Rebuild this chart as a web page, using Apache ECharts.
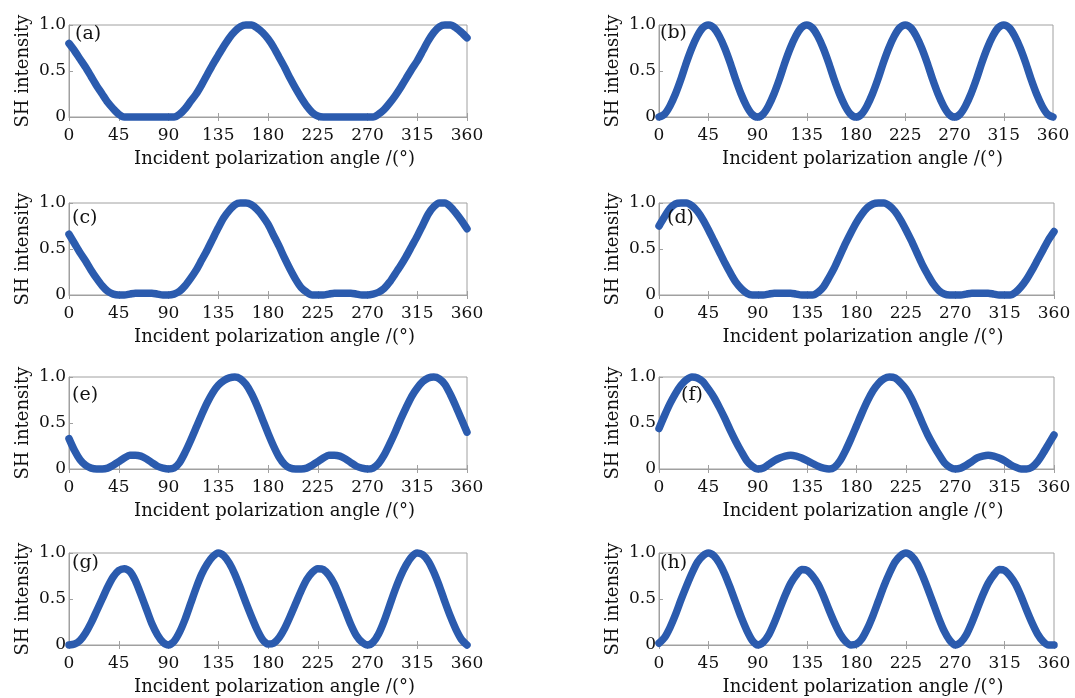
<!DOCTYPE html>
<html>
<head>
<meta charset="utf-8">
<script src="https://cdn.jsdelivr.net/npm/echarts@6/dist/echarts.min.js"></script>
<style>html,body{margin:0;padding:0;background:#fff}#c{width:1075px;height:698px}</style>
</head>
<body>
<div id="c"></div>
<script>
const angles = [0,5,10,15,20,25,30,35,40,45,50,55,60,65,70,75,80,85,90,95,100,105,110,115,120,125,130,135,140,145,150,155,160,165,170,175,180,185,190,195,200,205,210,215,220,225,230,235,240,245,250,255,260,265,270,275,280,285,290,295,300,305,310,315,320,325,330,335,340,345,350,355,360];
const xTicks = [0,45,90,135,180,225,270,315,360];
const yTicks = [0,0.5,1.0];
const panelLabels = ['(a)','(b)','(c)','(d)','(e)','(f)','(g)','(h)'];

const seriesA = [0.80,0.72,0.63,0.54,0.44,0.34,0.25,0.16,0.09,0.03,0,0,0,0,0,0,0,0,0,0,0.03,0.09,0.17,0.25,0.35,0.46,0.57,0.67,0.77,0.86,0.93,0.98,1.0,1.0,0.97,0.92,0.85,0.76,0.65,0.54,0.42,0.31,0.21,0.12,0.05,0.01,0,0,0,0,0,0,0,0,0,0,0.03,0.08,0.15,0.23,0.32,0.42,0.52,0.61,0.72,0.83,0.92,0.98,1.0,1.0,0.97,0.92,0.86];
const seriesB = [0,0.03,0.12,0.25,0.41,0.59,0.75,0.88,0.97,1.0,0.97,0.88,0.75,0.59,0.41,0.25,0.12,0.03,0,0.03,0.12,0.25,0.41,0.59,0.75,0.88,0.97,1.0,0.97,0.88,0.75,0.59,0.41,0.25,0.12,0.03,0,0.03,0.12,0.25,0.41,0.59,0.75,0.88,0.97,1.0,0.97,0.88,0.75,0.59,0.41,0.25,0.12,0.03,0,0.03,0.12,0.25,0.41,0.59,0.75,0.88,0.97,1.0,0.97,0.88,0.75,0.59,0.41,0.25,0.12,0.03,0];
const seriesC = [0.66,0.56,0.46,0.37,0.27,0.18,0.10,0.04,0.01,0,0,0.01,0.02,0.02,0.02,0.02,0.01,0,0,0.01,0.04,0.10,0.18,0.27,0.38,0.49,0.61,0.73,0.84,0.92,0.98,1.0,1.0,0.98,0.93,0.86,0.77,0.65,0.53,0.40,0.28,0.17,0.08,0.03,0,0,0,0.01,0.02,0.02,0.02,0.02,0.01,0,0,0.01,0.03,0.07,0.14,0.23,0.32,0.42,0.53,0.64,0.76,0.88,0.96,1.0,1.0,0.96,0.89,0.81,0.72];
const seriesD = [0.75,0.85,0.94,0.99,1.0,1.0,0.97,0.91,0.82,0.71,0.59,0.47,0.35,0.24,0.14,0.07,0.02,0,0,0,0.01,0.02,0.02,0.02,0.02,0.01,0,0,0,0.03,0.09,0.19,0.30,0.43,0.56,0.68,0.79,0.88,0.95,0.99,1.0,1.0,0.97,0.91,0.82,0.71,0.59,0.46,0.33,0.22,0.12,0.05,0.01,0,0,0,0.01,0.02,0.02,0.02,0.02,0.01,0,0,0,0.03,0.09,0.17,0.27,0.38,0.49,0.60,0.69];
const seriesE = [0.33,0.20,0.10,0.04,0.01,0,0,0.01,0.04,0.08,0.12,0.15,0.15,0.14,0.11,0.07,0.03,0.01,0,0.01,0.07,0.18,0.31,0.45,0.59,0.72,0.83,0.91,0.96,0.99,1.0,0.98,0.92,0.82,0.69,0.54,0.39,0.25,0.13,0.05,0.01,0,0,0.01,0.04,0.08,0.12,0.15,0.15,0.14,0.11,0.07,0.03,0.01,0,0.01,0.06,0.15,0.27,0.40,0.54,0.67,0.79,0.88,0.95,0.99,1.0,0.98,0.92,0.81,0.68,0.54,0.40];
const seriesF = [0.44,0.58,0.71,0.82,0.91,0.97,1.0,0.99,0.95,0.87,0.78,0.67,0.55,0.42,0.30,0.19,0.09,0.03,0,0.01,0.05,0.09,0.12,0.14,0.15,0.14,0.12,0.09,0.06,0.03,0.01,0,0.02,0.09,0.20,0.33,0.47,0.61,0.74,0.85,0.93,0.98,1.0,0.99,0.94,0.87,0.77,0.64,0.50,0.37,0.26,0.16,0.07,0.02,0,0.01,0.04,0.08,0.12,0.14,0.15,0.14,0.12,0.09,0.05,0.02,0,0,0.02,0.08,0.17,0.27,0.37];
const seriesG = [0,0.01,0.05,0.13,0.24,0.37,0.50,0.63,0.74,0.81,0.83,0.80,0.70,0.55,0.39,0.23,0.11,0.03,0,0.04,0.14,0.28,0.45,0.62,0.77,0.88,0.96,1.0,0.97,0.89,0.77,0.62,0.46,0.31,0.17,0.06,0.01,0.02,0.08,0.18,0.31,0.45,0.59,0.71,0.79,0.83,0.82,0.76,0.66,0.52,0.37,0.22,0.10,0.03,0,0.03,0.12,0.26,0.43,0.60,0.75,0.87,0.96,1.0,0.98,0.91,0.79,0.64,0.47,0.31,0.17,0.06,0];
const seriesH = [0.02,0.08,0.19,0.33,0.49,0.64,0.78,0.90,0.97,1.0,0.97,0.89,0.77,0.62,0.46,0.30,0.16,0.05,0,0.03,0.11,0.24,0.39,0.54,0.67,0.76,0.82,0.81,0.75,0.66,0.53,0.38,0.24,0.12,0.04,0,0.01,0.07,0.18,0.32,0.48,0.64,0.78,0.90,0.97,1.0,0.97,0.89,0.76,0.61,0.45,0.29,0.15,0.05,0,0.03,0.11,0.24,0.39,0.54,0.67,0.76,0.82,0.81,0.75,0.66,0.53,0.38,0.24,0.12,0.04,0,0];

const allSeries = [seriesA,seriesB,seriesC,seriesD,seriesE,seriesF,seriesG,seriesH];

const grids = [
  {left:69, top:25, width:398, height:92},
  {left:659, top:25, width:394, height:92},
  {left:69, top:203, width:398, height:92},
  {left:659, top:203, width:395, height:92},
  {left:69, top:377, width:398, height:92},
  {left:659, top:377, width:395, height:92},
  {left:69, top:553, width:398, height:92},
  {left:659, top:553, width:395, height:92}
];
const labelPos = [[75,36],[660,35],[72,220],[667,220],[72,397],[681,397],[72,565],[660,565]];

const FONT = 'DejaVu Serif';
const BORDER = '#a0a0a0';
const LINE = '#2b5bae';
const TXT = '#111';

const option = {
  backgroundColor:'#fff',
  animation:false,
  grid: grids.map(g => Object.assign({show:true, borderColor:BORDER, borderWidth:1, backgroundColor:'transparent'}, g)),
  xAxis: [], yAxis: [], series: [],
  graphic: []
};

for (let i=0;i<8;i++){
  option.xAxis.push({
    type:'value', gridIndex:i, min:0, max:360, interval:45,
    name:'Incident polarization angle /(°)', nameLocation:'middle', nameGap:33,
    nameTextStyle:{fontFamily:FONT, fontSize:18, color:TXT, padding:[0,0,0,13]},
    axisLine:{show:true, onZero:false, lineStyle:{color:BORDER}},
    axisTick:{show:true, inside:true, length:4, lineStyle:{color:BORDER}},
    axisLabel:{fontFamily:FONT, fontSize:17, color:TXT, margin:10},
    splitLine:{show:false}
  });
  option.xAxis.push({
    type:'value', gridIndex:i, position:'top', min:0, max:360, interval:45,
    axisLine:{show:false}, axisTick:{show:true, inside:true, length:4, lineStyle:{color:BORDER}},
    axisLabel:{show:false}, splitLine:{show:false}
  });
  option.yAxis.push({
    type:'value', gridIndex:i, min:0, max:1, interval:0.5,
    name:'SH intensity', nameLocation:'middle', nameGap:37,
    nameTextStyle:{fontFamily:FONT, fontSize:18, color:TXT},
    axisLine:{show:true, lineStyle:{color:BORDER}},
    axisTick:{show:true, inside:true, length:4, lineStyle:{color:BORDER}},
    axisLabel:{fontFamily:FONT, fontSize:17, color:TXT, margin:3,
      formatter: v => (v===0 ? '0' : v.toFixed(1))},
    splitLine:{show:false}
  });
  option.series.push({
    type:'line', xAxisIndex:2*i, yAxisIndex:i,
    data: angles.map((a,k)=>[a, allSeries[i][k]]),
    showSymbol:false, smooth:0.25, clip:false,
    lineStyle:{color:LINE, width:7.5, cap:'round', join:'round'},
    z:3
  });
  option.graphic.push({
    type:'text', left:labelPos[i][0], top:labelPos[i][1]-11, z:10,
    style:{text:panelLabels[i], font:'19px "'+FONT+'"', fill:TXT}
  });
}

const chart = echarts.init(document.getElementById('c'), null, {renderer:'canvas'});
chart.setOption(option);
</script>
</body>
</html>
